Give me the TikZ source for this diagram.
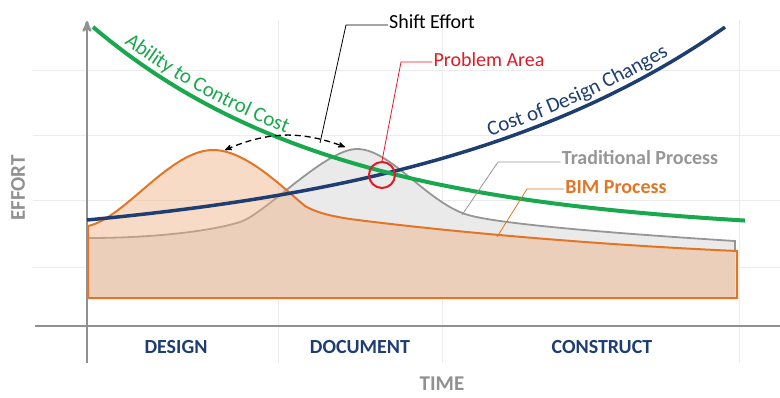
\documentclass[tikz,border=0pt]{standalone}
\usepackage{fontspec}
\setmainfont{Carlito}
\usetikzlibrary{arrows,decorations.text}

\definecolor{effgreen}{RGB}{26,168,78}
\definecolor{costblue}{RGB}{30,62,114}
\definecolor{bimorange}{RGB}{226,118,38}
\definecolor{bimfill}{RGB}{240,176,128}
\definecolor{tradgray}{RGB}{150,150,150}
\definecolor{tradfill}{RGB}{234,234,234}
\definecolor{probred}{RGB}{226,26,38}
\definecolor{gridgray}{RGB}{236,236,236}
\definecolor{axisgray}{RGB}{145,145,145}
\newcommand\curvefont{\fontsize{21}{24}\selectfont}

\begin{document}
\begin{tikzpicture}[x=1pt,y=1pt,>=stealth',
        gridline/.style={draw=gridgray,line width=0.8pt},
        axis/.style={draw=axisgray,line width=2.5pt},
        plain/.style={font=\fontsize{20}{24}\selectfont,inner sep=1pt},
        boldlbl/.style={font=\fontsize{20}{24}\selectfont\bfseries,inner sep=1pt},
        phase/.style={boldlbl,text=costblue},
        axislabel/.style={font=\fontsize{21}{25}\selectfont\bfseries,text=axisgray,inner sep=0pt},
        leader/.style={line width=0.8pt}]

  \useasboundingbox (0,0) rectangle (780,-397);

  \foreach \y in {70,135,200,267} \draw[gridline] (33,-\y) -- (780,-\y);
  \foreach \x in {278,442,739} \draw[gridline] (\x,-20) -- (\x,-363);

  \fill[tradfill] (88,-298) -- (88,-238) .. controls (160,-238) and (215,-230) .. (240,-222)
      .. controls (265,-214) and (325,-149) .. (357,-149)
      .. controls (390,-149) and (425,-200) .. (465,-214)
      .. controls (485,-221) and (560,-230) .. (735,-241) -- (735,-298) -- cycle;
  \draw[tradgray,line width=1.8pt] (88,-238) .. controls (160,-238) and (215,-230) .. (240,-222)
      .. controls (265,-214) and (325,-149) .. (357,-149)
      .. controls (390,-149) and (425,-200) .. (465,-214)
      .. controls (485,-221) and (560,-230) .. (735,-241) -- (735,-252);

  \path[fill=bimfill,fill opacity=0.45,draw=bimorange,line width=2pt]
      (88,-298) -- (88,-226) .. controls (125,-218) and (170,-150) .. (213,-150)
      .. controls (245,-150) and (280,-185) .. (305,-206)
      .. controls (315,-212) and (330,-216) .. (350,-219)
      .. controls (450,-232) and (600,-245) .. (737,-251) -- (737,-298) -- cycle;

  \draw[axis,->] (87,-363) -- (87,-21);
  \draw[axis] (35,-326) -- (780,-326);

  \draw[costblue,line width=3.5pt] plot[domain=87:725,samples=80]
      (\x,{-(250-30*exp(0.003144*(\x-87)))});
  \draw[effgreen,line width=4pt] plot[domain=93:745,samples=80]
      (\x,{-(235-208*exp(-0.00409*(\x-93)))});

  \path[decorate,decoration={text along path,raise=7pt,text color=effgreen,
        text={|\curvefont|Ability to Control Cost}}]
      plot[domain=120:330,samples=40] (\x,{-(235-208*exp(-0.00409*(\x-93)))});
  \path[decorate,decoration={text along path,raise=7pt,text color=costblue,
        text={|\curvefont|Cost of Design Changes}}]
      plot[domain=492:720,samples=40] (\x,{-(250-30*exp(0.003144*(\x-87)))});

  \coordinate (bimpeak) at (225,-150);
  \coordinate (tradpeak) at (345,-147);
  \draw[<->,dash pattern=on 6pt off 4pt,line width=1.3pt] (bimpeak) to[bend left=22] (tradpeak);

  \node[plain] (shift) at (432,-22) {Shift Effort};
  \coordinate (shiftknee) at (346,-25);
  \coordinate (shifttip) at (320,-143);
  \draw[leader] ([yshift=-3pt]shift.west) -- (shiftknee) -- (shifttip);

  \node[draw=probred,line width=2pt,circle,minimum size=26pt,inner sep=0pt] (pa) at (382,-175) {};
  \node[plain,text=probred] (prob) at (489,-60) {Problem Area};
  \coordinate (probknee) at (401,-62);
  \draw[leader,probred] ([yshift=-2pt]prob.west) -- (probknee) -- (pa.north);

  \node[boldlbl,text=tradgray] (trad) at (640,-158) {Traditional Process};
  \coordinate (tradknee) at (498,-162);
  \coordinate (tradtip) at (462,-215);
  \draw[leader,tradgray] ([yshift=-4pt]trad.west) -- (tradknee) -- (tradtip);

  \node[boldlbl,text=bimorange] (bim) at (616,-187) {BIM Process};
  \coordinate (bimknee) at (527,-189);
  \coordinate (bimtip) at (497,-237);
  \draw[leader,bimorange] ([yshift=-2pt]bim.west) -- (bimknee) -- (bimtip);

  \node[phase] (design) at (176,-347) {DESIGN};
  \node[phase] (document) at (360,-347) {DOCUMENT};
  \node[phase] (construct) at (602,-347) {CONSTRUCT};
  \node[axislabel] (time) at (442,-384) {TIME};
  \node[axislabel,rotate=90] (effort) at (18,-188) {EFFORT};

\end{tikzpicture}
\end{document}
